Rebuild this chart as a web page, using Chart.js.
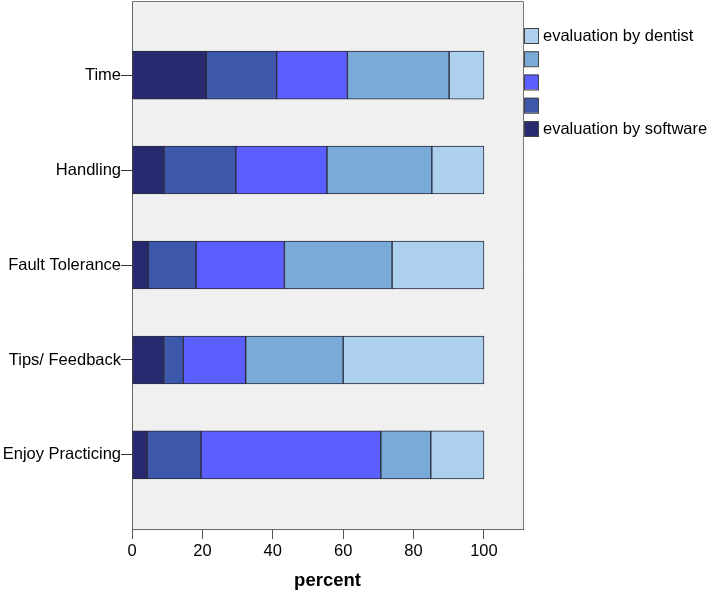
<!DOCTYPE html>
<html>
<head>
<meta charset="utf-8">
<script src="https://cdn.jsdelivr.net/npm/chart.js@4.4.1/dist/chart.umd.min.js"></script>
<style>
  html, body { margin: 0; padding: 0; background: #fff; }
  #wrap { width: 709px; height: 593px; position: relative; }
</style>
</head>
<body>
<div id="wrap"><canvas id="chart"></canvas></div>
<script>
// categories top to bottom
const categories = ['Time', 'Handling', 'Fault Tolerance', 'Tips/ Feedback', 'Enjoy Practicing'];

// percent per rating level, from "evaluation by software" to "evaluation by dentist"
const level1 = [21.1, 9.1, 4.6, 9.0, 4.3];
const level2 = [20.0, 20.4, 13.6, 5.6, 15.3];
const level3 = [20.1, 25.9, 25.1, 17.7, 51.1];
const level4 = [28.9, 29.8, 30.6, 27.7, 14.2];
const level5 = [9.9, 14.8, 26.1, 40.0, 15.1];

const levelNames = ['evaluation by software', '', '', '', 'evaluation by dentist'];
const levelColors = ['#272A6F', '#3D57AB', '#5B5FFF', '#7AAAD7', '#ADD0EF'];
const xTicks = [0, 20, 40, 60, 80, 100];

const FONT = '"Liberation Sans", Arial, sans-serif';
Chart.defaults.font.family = FONT;
Chart.defaults.color = '#000';

const levels = [level1, level2, level3, level4, level5];
const datasets = levels.map((vals, i) => ({
    label: levelNames[i],
    data: vals.map((v, j) => ({ x: v, y: j })),
    backgroundColor: levelColors[i],
    borderColor: '#2a2a3a',
    borderWidth: 1,
    borderSkipped: false,
    barThickness: 48
}));

// gray plot background + frame
const plotFrame = {
    id: 'plotFrame',
    beforeDraw(chart) {
        const { ctx, chartArea: a } = chart;
        ctx.save();
        ctx.fillStyle = '#fff';
        ctx.fillRect(0, 0, chart.width, chart.height);
        ctx.fillStyle = '#F0F0F0';
        ctx.fillRect(a.left, a.top, a.right - a.left, a.bottom - a.top);
        ctx.restore();
    },
    afterDraw(chart) {
        const { ctx, chartArea: a } = chart;
        ctx.save();
        ctx.strokeStyle = '#777';
        ctx.lineWidth = 1;
        ctx.beginPath();
        ctx.moveTo(a.left, a.top + 0.5);
        ctx.lineTo(a.right + 0.5, a.top + 0.5);
        ctx.lineTo(a.right + 0.5, a.bottom);
        ctx.stroke();
        ctx.restore();
    }
};

// legend on the right, reversed order like the original
const sideLegend = {
    id: 'sideLegend',
    afterDraw(chart) {
        const { ctx, chartArea: a } = chart;
        const ds = chart.data.datasets.slice().reverse();
        ctx.save();
        ctx.font = '16.5px ' + FONT;
        ctx.textBaseline = 'middle';
        ds.forEach((d, i) => {
            const y = a.top + 27 + i * 23.25;
            ctx.fillStyle = d.backgroundColor;
            ctx.fillRect(a.right + 1, y, 14, 15);
            ctx.strokeStyle = '#444';
            ctx.lineWidth = 1;
            ctx.strokeRect(a.right + 1.5, y + 0.5, 14, 15);
            if (d.label) {
                ctx.fillStyle = '#000';
                ctx.fillText(d.label, a.right + 20, y + 8);
            }
        });
        ctx.restore();
    }
};

new Chart(document.getElementById('chart'), {
    type: 'bar',
    data: { datasets: datasets },
    options: {
        indexAxis: 'y',
        responsive: true,
        maintainAspectRatio: false,
        animation: false,
        events: [],
        layout: { padding: { top: 1, right: 186, left: 0, bottom: 0 } },
        plugins: {
            legend: { display: false },
            tooltip: { enabled: false }
        },
        scales: {
            x: {
                type: 'linear',
                stacked: true,
                min: 0,
                max: 111.1,
                afterBuildTicks: scale => {
                    scale.ticks = xTicks.map(v => ({ value: v }));
                },
                afterFit: scale => { scale.height = 64; },
                grid: {
                    drawOnChartArea: false,
                    drawTicks: true,
                    tickLength: 10,
                    color: '#555'
                },
                border: { color: '#666', width: 1 },
                ticks: {
                    padding: 3,
                    font: { size: 16.5 },
                    color: '#000'
                },
                title: {
                    display: true,
                    text: 'percent',
                    font: { size: 18.5, weight: 'bold' },
                    color: '#000',
                    padding: { top: 0, bottom: 1 }
                }
            },
            y: {
                type: 'linear',
                stacked: true,
                reverse: true,
                offset: false,
                min: -0.78,
                max: 4.78,
                afterBuildTicks: scale => {
                    scale.ticks = categories.map((c, i) => ({ value: i }));
                },
                afterFit: scale => {
                    scale.width = 132;
                    scale.paddingTop = 0;
                    scale.paddingBottom = 0;
                },
                grid: {
                    offset: false,
                    drawOnChartArea: false,
                    drawTicks: true,
                    tickLength: 11,
                    color: '#333'
                },
                border: { color: '#666', width: 1 },
                ticks: {
                    padding: 0,
                    font: { size: 16.5 },
                    color: '#000',
                    callback: v => categories[v] !== undefined ? categories[v] : ''
                }
            }
        }
    },
    plugins: [plotFrame, sideLegend]
});
</script>
</body>
</html>
